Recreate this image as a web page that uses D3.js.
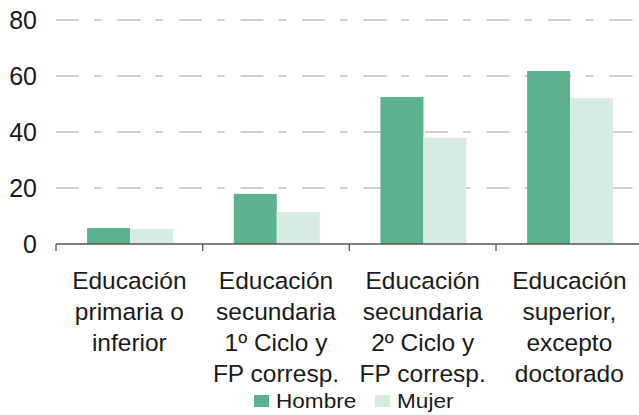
<!DOCTYPE html>
<html>
<head>
<meta charset="utf-8">
<script src="https://cdn.jsdelivr.net/npm/d3@7"></script>
<style>
  body { margin: 0; background: #fff; }
  text { font-family: "Liberation Sans", Arial, sans-serif; fill: #1a1a1a; }
</style>
</head>
<body>
<script>
var width = 639, height = 415;

// datos
var categorias = [
    ["Educación", "primaria o", "inferior"],
    ["Educación", "secundaria", "1º Ciclo y", "FP corresp."],
    ["Educación", "secundaria", "2º Ciclo y", "FP corresp."],
    ["Educación", "superior,", "excepto", "doctorado"]
];
var series = ["Hombre", "Mujer"];
var hombre = [5.7, 17.9, 52.5, 61.8];
var mujer = [5.4, 11.4, 37.9, 52.1];
var yTicks = [0, 20, 40, 60, 80];
var colores = ["#5cb18f", "#d6ece2"];

var svg = d3.select("body").append("svg")
    .attr("width", width)
    .attr("height", height);

var x0 = d3.scaleBand()
    .domain(d3.range(categorias.length))
    .range([56, 642.7])
    .padding(0);

var bw = x0.bandwidth();
var x1 = d3.scaleBand()
    .domain(series)
    .range([bw * 0.212, bw * 0.798]);

var y = d3.scaleLinear().domain([0, 80]).range([244, 20]);

var color = d3.scaleOrdinal().domain(series).range(colores);

// lineas de cuadricula
svg.append("g").selectAll("line")
    .data(yTicks.filter(function(d) { return d > 0; }))
    .enter().append("line")
    .attr("x1", 56).attr("x2", width)
    .attr("y1", function(d) { return y(d); })
    .attr("y2", function(d) { return y(d); })
    .attr("stroke", "#c0c0c0")
    .attr("stroke-width", 1.3)
    .attr("stroke-dasharray", "23,15,7.5,16");

// etiquetas eje y
svg.append("g").selectAll("text")
    .data(yTicks)
    .enter().append("text")
    .attr("x", 37)
    .attr("y", function(d) { return y(d); })
    .attr("dy", "0.36em")
    .attr("text-anchor", "end")
    .style("font-size", "25px")
    .text(function(d) { return d; });

// barras
var datos = categorias.map(function(c, i) {
    return [{ s: "Hombre", v: hombre[i] }, { s: "Mujer", v: mujer[i] }];
});

svg.append("g").selectAll("g")
    .data(datos)
    .enter().append("g")
    .attr("transform", function(d, i) { return "translate(" + x0(i) + ",0)"; })
    .selectAll("rect")
    .data(function(d) { return d; })
    .enter().append("rect")
    .attr("x", function(d) { return x1(d.s); })
    .attr("width", x1.bandwidth())
    .attr("y", function(d) { return y(d.v); })
    .attr("height", function(d) { return y(0) - y(d.v); })
    .attr("fill", function(d) { return color(d.s); });

// eje x
svg.append("line")
    .attr("x1", 56).attr("x2", width)
    .attr("y1", y(0)).attr("y2", y(0))
    .attr("stroke", "#555").attr("stroke-width", 1.3);

svg.append("g").selectAll("line")
    .data(d3.range(categorias.length))
    .enter().append("line")
    .attr("x1", function(d) { return x0(d); })
    .attr("x2", function(d) { return x0(d); })
    .attr("y1", y(0)).attr("y2", y(0) + 7)
    .attr("stroke", "#555").attr("stroke-width", 1.3);

var lbl = svg.append("g").selectAll("text")
    .data(categorias)
    .enter().append("text")
    .attr("text-anchor", "middle")
    .style("font-size", "24.5px");

lbl.selectAll("tspan")
    .data(function(d, i) { return d.map(function(t) { return { t: t, i: i }; }); })
    .enter().append("tspan")
    .attr("x", function(d) { return x0(d.i) + bw / 2; })
    .attr("y", function(d, j) { return 289 + j * 31; })
    .text(function(d) { return d.t; });

// leyenda
var leg = svg.append("g").selectAll("g")
    .data(series)
    .enter().append("g")
    .attr("transform", function(d, i) { return "translate(" + (254 + i * 121) + ",395)"; });

leg.append("rect")
    .attr("width", 15).attr("height", 12)
    .attr("fill", function(d) { return color(d); });

leg.append("text")
    .attr("transform", "translate(22,13) scale(1.13,1)")
    .style("font-size", "20px")
    .text(function(d) { return d; });
</script>
</body>
</html>
